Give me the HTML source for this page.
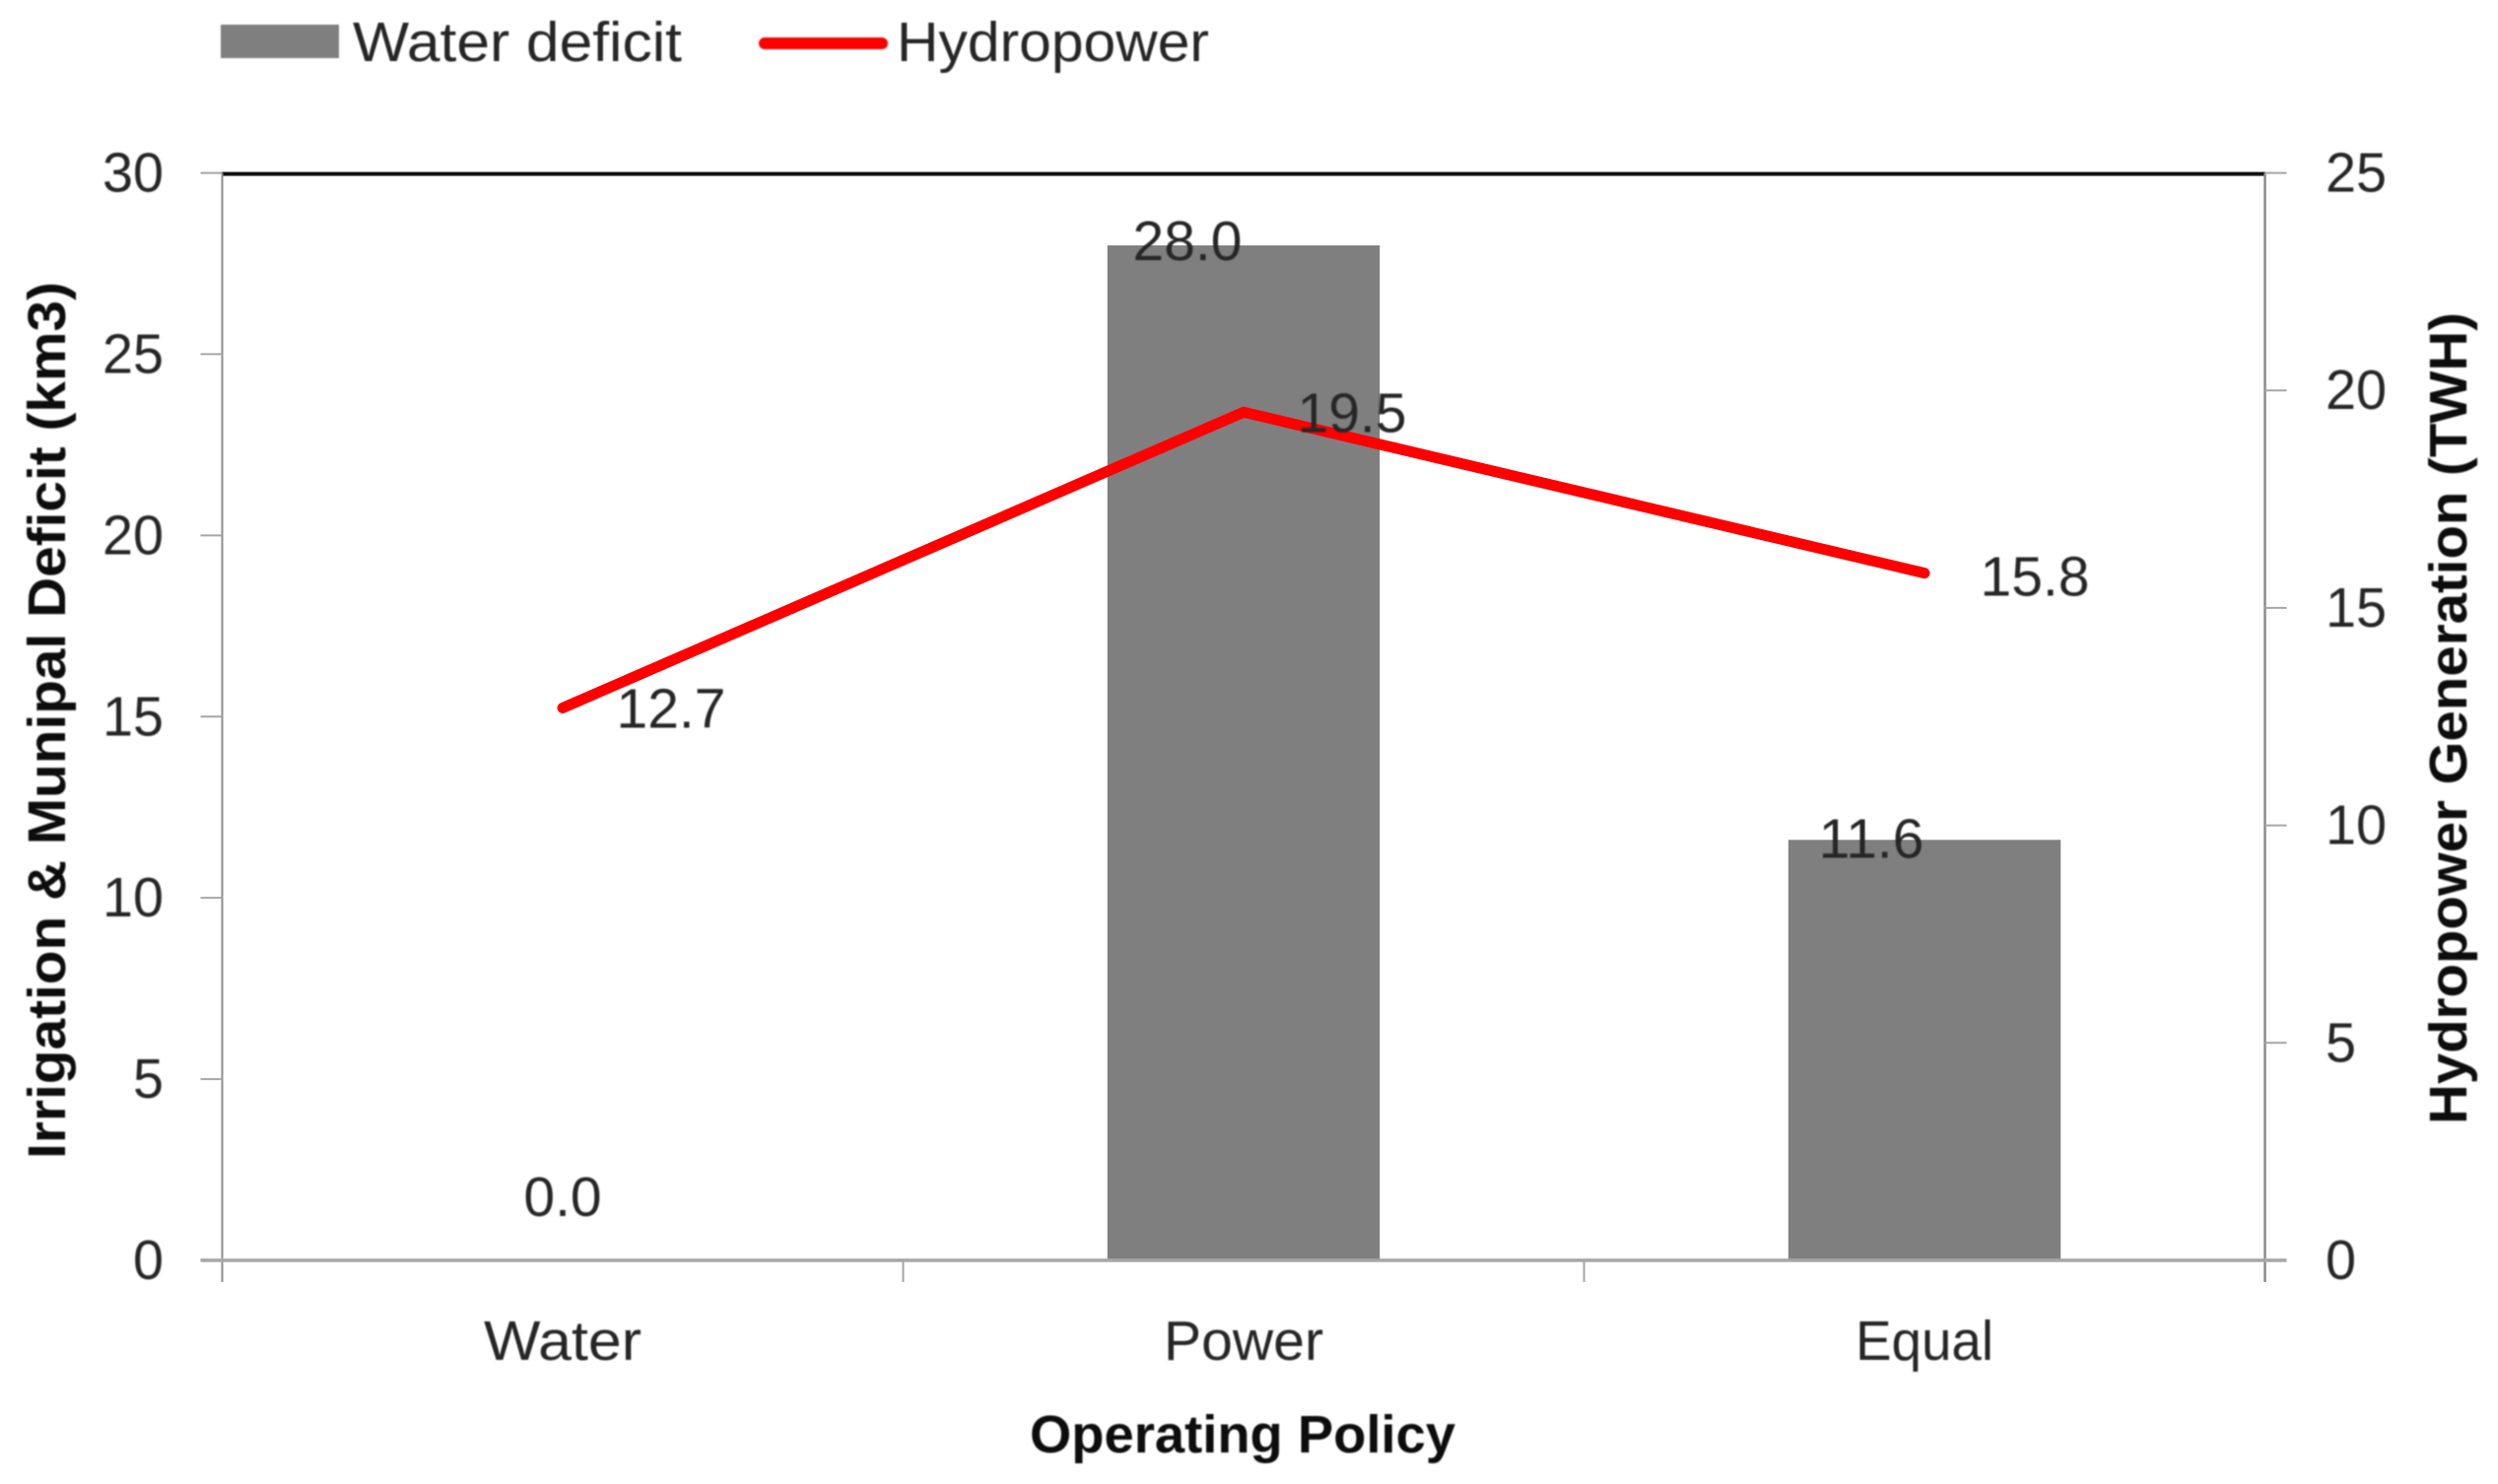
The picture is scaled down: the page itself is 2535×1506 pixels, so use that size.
<!DOCTYPE html>
<html lang="en">
<head>
<meta charset="utf-8">
<title>Water deficit and hydropower by operating policy</title>
<style>
  html, body { margin: 0; padding: 0; background: #fff; }
  #chart { display: block; width: 2535px; height: 1506px; }
  text { font-family: "Liberation Sans", sans-serif; fill: #262626; }
  .tick-text { font-size: 57px; }
  .title-text { font-size: 54px; font-weight: bold; fill: #0d0d0d; }
  .soft { filter: url(#soften); }
</style>
</head>
<body>
<svg id="chart" xmlns="http://www.w3.org/2000/svg" width="2535" height="1506" viewBox="0 0 2535 1506">
  <defs>
    <filter id="soften" x="-5%" y="-5%" width="110%" height="110%"><feGaussianBlur stdDeviation="0.7"/></filter>
  </defs>
  <rect x="0" y="0" width="2535" height="1506" fill="#ffffff"/>

  <g class="soft">
    <g>
      <rect x="224" y="25" width="120" height="34" fill="#7f7f7f"/>
      <text class="tick-text" x="358" y="62" textLength="334" lengthAdjust="spacingAndGlyphs">Water deficit</text>
    </g>
    <g>
      <line x1="776" y1="44" x2="895" y2="44" stroke="#ff0000" stroke-width="12" stroke-linecap="round"/>
      <text class="tick-text" x="910" y="62" textLength="317" lengthAdjust="spacingAndGlyphs">Hydropower</text>
    </g>
  </g>

  <g id="bars"></g>

  <g id="axes"></g>

  <g id="lines"></g>

  <g id="labels" class="soft"></g>

  <g class="soft">
    <text class="title-text" x="1045" y="1474" textLength="432" lengthAdjust="spacingAndGlyphs">Operating Policy</text>
    <text class="title-text" transform="translate(66 1176) rotate(-90)" x="0" y="0" textLength="890" lengthAdjust="spacingAndGlyphs">Irrigation &amp; Munipal Deficit (km3)</text>
    <text class="title-text" transform="translate(2503 1141) rotate(-90)" x="0" y="0" textLength="824" lengthAdjust="spacingAndGlyphs">Hydropower Generation (TWH)</text>
  </g>
</svg>

<script>
const categories = ["Water", "Power", "Equal"];
const waterDeficit = [0.0, 28.0, 11.6];
const hydropower = [12.7, 19.5, 15.8];
const leftTicks = [0, 5, 10, 15, 20, 25, 30];
const rightTicks = [0, 5, 10, 15, 20, 25];

const SVG_NS = "http://www.w3.org/2000/svg";
const plot = { left: 225.5, right: 2298.5, top: 175.5, bottom: 1279 };
const leftMax = 30;
const rightMax = 25;
const barShare = 0.4;

const bandWidth = (plot.right - plot.left) / categories.length;
function xScale(i) { return plot.left + bandWidth * (i + 0.5); }
function yLeft(v) { return plot.bottom - (v / leftMax) * (plot.bottom - plot.top); }
function yRight(v) { return plot.bottom - (v / rightMax) * (plot.bottom - plot.top); }

function make(tag, attrs, parent, text) {
  const el = document.createElementNS(SVG_NS, tag);
  for (const k in attrs) el.setAttribute(k, attrs[k]);
  if (text !== undefined) el.textContent = text;
  parent.appendChild(el);
  return el;
}

const barsG = document.getElementById("bars");
const axesG = document.getElementById("axes");
const linesG = document.getElementById("lines");
const labelsG = document.getElementById("labels");

/* Bars */
waterDeficit.forEach(function (v, i) {
  const w = bandWidth * barShare;
  const el = make("rect", { x: xScale(i) - w / 2, y: yLeft(v), width: w, height: plot.bottom - yLeft(v), fill: "#7f7f7f" }, barsG);
  
  
});

/* Axis lines */
const topSpine = make("line", { x1: plot.left, y1: plot.top + 1, x2: plot.right, y2: plot.top + 1, stroke: "#111111", "stroke-width": 4 }, axesG);



const leftSpine = make("line", { x1: plot.left, y1: plot.top, x2: plot.left, y2: plot.bottom + 22, stroke: "#8c8c8c", "stroke-width": 2 }, axesG);



const rightSpine = make("line", { x1: plot.right, y1: plot.top, x2: plot.right, y2: plot.bottom + 22, stroke: "#8c8c8c", "stroke-width": 2.5 }, axesG);



const baseAxis = make("line", { x1: plot.left - 22, y1: plot.bottom, x2: plot.right + 22, y2: plot.bottom, stroke: "#a6a6a6", "stroke-width": 3.5 }, axesG);



/* Ticks and tick labels */
leftTicks.forEach(function (t) {
  const y = yLeft(t);
  const tick = make("line", { x1: plot.left - 22, y1: y, x2: plot.left, y2: y, stroke: "#a6a6a6", "stroke-width": 2 }, axesG);
  
  
  const lab = make("text", { x: 166, y: y + 19, "text-anchor": "end", class: "tick-text", textLength: String(t).length * 31, lengthAdjust: "spacingAndGlyphs" }, labelsG, String(t));
  
  
});

rightTicks.forEach(function (t) {
  const y = yRight(t);
  const tick = make("line", { x1: plot.right, y1: y, x2: plot.right + 22, y2: y, stroke: "#a6a6a6", "stroke-width": 2 }, axesG);
  
  
  const lab = make("text", { x: 2360, y: y + 19, class: "tick-text", textLength: String(t).length * 31, lengthAdjust: "spacingAndGlyphs" }, labelsG, String(t));
  
  
});

for (let i = 1; i < categories.length; i++) {
  const bx = plot.left + bandWidth * i;
  const sep = make("line", { x1: bx, y1: plot.bottom, x2: bx, y2: plot.bottom + 22, stroke: "#a6a6a6", "stroke-width": 2 }, axesG);
  
  
}

/* Category labels */
const categoryFit = { Water: 160, Power: 162, Equal: 140 };
categories.forEach(function (c, i) {
  const lab = make("text", { x: xScale(i), y: 1380, "text-anchor": "middle", class: "tick-text", textLength: categoryFit[c], lengthAdjust: "spacingAndGlyphs" }, labelsG, c);
  
  
});

/* Hydropower line */
const points = hydropower.map(function (v, i) { return xScale(i) + "," + yRight(v); }).join(" ");
const hydroLine = make("polyline", { points: points, fill: "none", stroke: "#ff0000", "stroke-width": 11, "stroke-linecap": "round", "stroke-linejoin": "round" }, linesG);



/* Data labels, nudged from their marks */
const barLabelNudge = [[0, -45], [-57, 15], [-54, 18]];
const lineLabelNudge = [[110, 20], [110, 20], [112, 23]];

waterDeficit.forEach(function (v, i) {
  const n = barLabelNudge[i];
  const lab = make("text", { x: xScale(i) + n[0], y: yLeft(v) + n[1], "text-anchor": "middle", class: "tick-text" }, labelsG, v.toFixed(1));
  
  
});

hydropower.forEach(function (v, i) {
  const n = lineLabelNudge[i];
  const lab = make("text", { x: xScale(i) + n[0], y: yRight(v) + n[1], "text-anchor": "middle", class: "tick-text" }, labelsG, v.toFixed(1));
  
  
});
</script>
</body>
</html>
